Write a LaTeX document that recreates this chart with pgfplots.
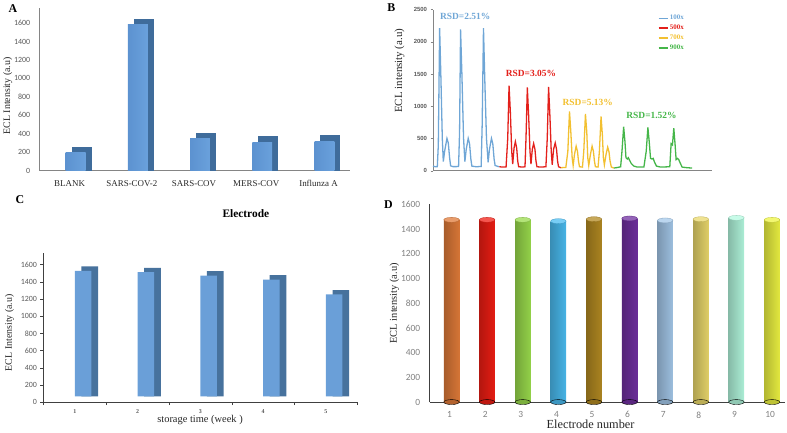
\documentclass[border=0pt]{standalone}
\usepackage{pgfplots}
\pgfplotsset{compat=1.18}
\usepackage{fontspec}
\setmainfont{Liberation Serif}
\newfontfamily\calib{Carlito}
\newfontfamily\arialf{Liberation Sans}
\newcommand{\fs}[1]{\fontsize{#1}{#1}\selectfont}
\definecolor{axgray}{HTML}{858585}
\definecolor{axdark}{HTML}{404040}
\definecolor{tickgray}{HTML}{595959}
\definecolor{tickgrayD}{HTML}{808080}
\definecolor{Adark}{HTML}{3F6C9B}
\definecolor{Afl}{HTML}{5C92D0}
\definecolor{Afm}{HTML}{76ACE6}
\definecolor{Afr}{HTML}{6AA1DC}
\definecolor{Cfront}{HTML}{6A9FD8}
\definecolor{Cdark}{HTML}{47729D}
\definecolor{Bblue}{HTML}{6FA6D6}
\definecolor{Bred}{HTML}{E3201B}
\definecolor{Byel}{HTML}{F2C031}
\definecolor{Bgreen}{HTML}{45B649}
\definecolor{c1}{HTML}{E07B39}
\definecolor{c2}{HTML}{F01E14}
\definecolor{c3}{HTML}{9ADB4C}
\definecolor{c4}{HTML}{4BBDF2}
\definecolor{c5}{HTML}{B38A22}
\definecolor{c6}{HTML}{7030A0}
\definecolor{c7}{HTML}{A4C8EA}
\definecolor{c8}{HTML}{EAD86C}
\definecolor{c9}{HTML}{B4FAE0}
\definecolor{c10}{HTML}{EEF442}
\pgfplotsset{
  base/.style={scale only axis, axis x line*=bottom, axis y line*=left, clip=false,
    /pgf/number format/assume math mode=true, /pgf/number format/1000 sep={}},
}
% A bar: x, front value, depth value
\newcommand{\abar}[3]{%
  \addplot[ybar, bar width=20bp, bar shift=12bp, fill=Adark, draw=none] coordinates {(#1,#3)};
  \addplot[ybar, bar width=20bp, bar shift=6bp, draw=none, left color=Afl, middle color=Afm, right color=Afr] coordinates {(#1,#2)};
}
% D cylinder: x, value, colour
\newcommand{\cyl}[3]{%
  \addplot[only marks, mark=*, mark size=7.75bp, mark options={xshift=2bp, yscale=0.32, fill=#3!80!black, draw=none}] coordinates {(#1,0)};
  \addplot[ybar, bar width=15.5bp, bar shift=2bp, draw=none, left color=#3!75!black, middle color=#3!80!white, right color=#3!95!black] coordinates {(#1,#2)};
  \addplot[only marks, mark=*, mark size=7.75bp, mark options={xshift=2bp, yscale=0.32, fill=#3!75!white, draw=#3!80!black, line width=0.3bp}] coordinates {(#1,#2)};
}
\begin{document}
\begin{tikzpicture}[x=1bp,y=1bp]
\path (0,0) rectangle (787,430);

% ---------------- A ----------------
\begin{axis}[base, at={(37bp,260bp)}, anchor=south west, width=311bp, height=163bp,
  xmin=-0.48, xmax=4.5, ymin=0, ymax=1762,
  xtick={0,1,2,3,4}, xticklabels={BLANK,SARS-COV-2,SARS-COV,MERS-COV,Influnza A},
  ytick={0,200,...,1600}, major tick length=0pt,
  axis line style={draw=axgray, line width=0.9bp},
  xticklabel style={font=\fs{9}, text=black!85, yshift=-6bp},
  yticklabel style={font=\calib\fs{8}, text=tickgray, xshift=-6bp},
  ylabel={ECL Intensity (a.u)},
  ylabel style={at={(axis description cs:-0.103,0.46)}, anchor=center, font=\fs{10}, text=black!85},
]
\abar{0}{195}{260}
\abar{1}{1585}{1650}
\abar{2}{345}{410}
\abar{3}{310}{375}
\abar{4}{320}{385}
\end{axis}

% ---------------- B ----------------
\begin{axis}[base, at={(431.7bp,260bp)}, anchor=south west, width=280bp, height=161.7bp,
  xmin=155, xmax=995, ymin=0, ymax=2500, xtick=\empty,
  ytick={0,500,...,2500}, tick align=outside, major tick length=2.5bp,
  axis line style={draw=axgray, line width=0.8bp}, ytick style={draw=axgray},
  yticklabel style={font=\arialf\bfseries\fs{6}, text=tickgray},
  ylabel={ECL intensity (a.u)},
  ylabel style={at={(axis description cs:-0.12,0.62)}, anchor=center, font=\fs{11}, text=black!85},
  legend style={at={(rel axis cs:0.805,0.975)}, anchor=north west, draw=none, fill=none,
    font=\bfseries\fs{7}, row sep=0.6bp, inner sep=0pt, nodes={inner sep=1.6bp}},
  legend cell align=left,
  legend image code/.code={\draw[#1, line width=1.6bp] (0bp,0bp) -- (9bp,0bp);},
]
\addplot[Bblue, line width=1.3bp] coordinates {(155,70) (162,60) (168,62) (171,400) (175,2210) (179,1400) (183,500) (186,140) (190,300) (197,500) (201,430) (205,200) (208,75) (215,62) (225,62) (232,65) (235,600) (238,2190) (242,1500) (247,500) (251,140) (255,330) (261,500) (265,420) (269,180) (272,70) (285,60) (300,65) (303,700) (307,2210) (311,1400) (316,500) (321,130) (325,330) (331,500) (335,420) (339,180) (342,80) (350,65) (355,60)};
\addlegendentry{\textcolor{Bblue}{100x}}
\addplot[Bred, line width=1.3bp] coordinates {(355,60) (365,55) (375,55) (380,500) (384,1320) (388,900) (392,300) (395,100) (399,350) (403,450) (407,350) (410,150) (413,60) (425,55) (432,60) (435,500) (439,1290) (443,850) (447,300) (450,100) (454,330) (458,420) (462,330) (465,150) (468,60) (480,55) (495,60) (499,500) (503,1300) (507,850) (511,300) (514,90) (518,330) (523,430) (527,330) (530,150) (533,60) (540,45)};
\addlegendentry{\textcolor{Bred}{500x}}
\addplot[Byel, line width=1.3bp] coordinates {(540,45) (555,50) (561,300) (566,920) (570,600) (574,200) (577,80) (581,250) (586,380) (590,300) (593,150) (596,60) (605,55) (609,300) (614,880) (618,600) (621,200) (624,80) (629,250) (634,380) (638,300) (641,150) (644,60) (652,55) (656,300) (661,840) (665,550) (668,200) (671,90) (676,250) (681,365) (685,290) (688,150) (692,55) (700,40)};
\addlegendentry{\textcolor{Byel}{700x}}
\addplot[Bgreen, line width=1.3bp] coordinates {(700,40) (712,50) (720,60) (724,300) (729,680) (733,450) (736,200) (740,180) (743,200) (748,150) (752,110) (760,70) (770,55) (790,55) (797,300) (802,670) (806,450) (810,190) (814,180) (818,190) (822,130) (828,70) (840,55) (868,60) (872,420) (876,400) (880,660) (884,400) (887,170) (891,190) (895,170) (900,110) (905,55) (920,45) (935,40)};
\addlegendentry{\textcolor{Bgreen}{900x}}
\end{axis}

% ---------------- C ----------------
\pgfplotsset{Cax/.style={base, at={(40.7bp,27.7bp)}, anchor=south west, width=315bp, height=149.3bp,
  xmin=0.5, xmax=5.5, ymin=0, ymax=1731, ybar stacked, bar width=16.7bp}}
\begin{axis}[Cax, hide axis]
\addplot[draw=none, fill=none, bar shift=15bp] coordinates {(1,66) (2,66) (3,66) (4,66) (5,66)};
\addplot[fill=Cdark, draw=none, bar shift=15bp] coordinates {(1,1513) (2,1497) (3,1458) (4,1412) (5,1238)};
\end{axis}
\begin{axis}[Cax,
  xtick={0.5,1.5,...,5.5}, xticklabels={},
  extra x ticks={1,2,3,4,5}, extra x tick labels={1,2,3,4,5},
  extra x tick style={tick style={draw=none}, xticklabel style={font=\bfseries\fs{6}, text=tickgray, yshift=-1bp}},
  ytick={0,200,...,1600}, tick align=outside, major tick length=3bp,
  tick style={draw=axdark}, axis line style={draw=axdark, line width=0.8bp},
  yticklabel style={font=\calib\fs{8}, text=tickgray},
  title={Electrode}, title style={at={(axis description cs:0.645,1.228)}, anchor=center, font=\bfseries\fs{11.5}},
  xlabel={storage time (week )},
  xlabel style={at={(axis description cs:0.499,-0.122)}, anchor=center, font=\fs{10.5}, text=black!85},
  ylabel={ECL Intensity (a.u)},
  ylabel style={at={(axis description cs:-0.108,0.466)}, anchor=center, font=\fs{10}, text=black!85},
]
\addplot[draw=none, fill=none, bar shift=8.3bp] coordinates {(1,66) (2,66) (3,66) (4,66) (5,66)};
\addplot[fill=Cfront, draw=none, bar shift=8.3bp] coordinates {(1,1461) (2,1445) (3,1406) (4,1360) (5,1186)};
\end{axis}

% ---------------- D ----------------
\begin{axis}[base, at={(428.3bp,27.7bp)}, anchor=south west, width=356.7bp, height=198.3bp,
  xmin=0.44, xmax=10.42, ymin=0, ymax=1600, axis on top,
  xtick={1,...,10}, ytick={0,200,...,1600}, major tick length=0pt,
  axis line style={draw=axdark, line width=0.9bp},
  xticklabel style={font=\calib\fs{9.5}, text=tickgrayD, yshift=-6bp},
  yticklabel style={font=\calib\fs{9.5}, text=tickgrayD, xshift=-6bp},
  xlabel={Electrode number},
  xlabel style={at={(axis description cs:0.453,-0.114)}, anchor=center, font=\fs{12.4}, text=black!85},
  ylabel={ECL intensity (a.u)},
  ylabel style={at={(axis description cs:-0.099,0.5)}, anchor=center, font=\fs{10.5}, text=black!85},
]
\cyl{1}{1476}{c1}
\cyl{2}{1476}{c2}
\cyl{3}{1476}{c3}
\cyl{4}{1465}{c4}
\cyl{5}{1481}{c5}
\cyl{6}{1487}{c6}
\cyl{7}{1471}{c7}
\cyl{8}{1481}{c8}
\cyl{9}{1492}{c9}
\cyl{10}{1476}{c10}
\end{axis}

% ---------------- texts ----------------
\node[font=\bfseries\fs{12}] at (10,422.7) {A};
\node[font=\bfseries\fs{12}] at (390,424) {B};
\node[font=\bfseries\fs{12}] at (17,231) {C};
\node[font=\bfseries\fs{12}] at (387,226) {D};
\node[font=\bfseries\fs{9.5}, text=Bblue] at (464,414.3) {RSD=2.51\%};
\node[font=\bfseries\fs{9.5}, text=Bred] at (530,357.3) {RSD=3.05\%};
\node[font=\bfseries\fs{9.5}, text=Byel] at (587,328) {RSD=5.13\%};
\node[font=\bfseries\fs{9.5}, text=Bgreen] at (651,315) {RSD=1.52\%};
\end{tikzpicture}
\end{document}
